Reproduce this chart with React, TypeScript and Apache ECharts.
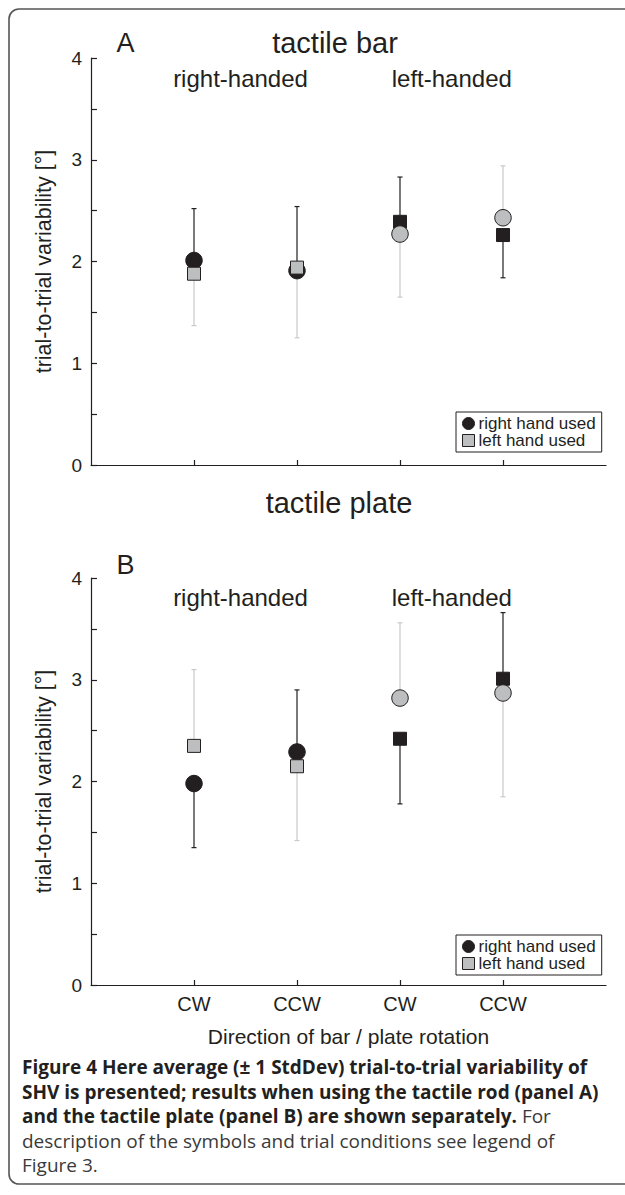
import React, { useEffect, useRef } from "react";
import * as echarts from "echarts";

// ---------- data ----------
const categories = ["CW", "CCW", "CW", "CCW"];
const categoryPositions = [1, 2, 3, 4];
const groupLabels = ["right-handed", "left-handed"];
const panelTitles = ["tactile bar", "tactile plate"];
const panelLetters = ["A", "B"];
const seriesNames = ["right hand used", "left hand used"];

// Panel A (tactile bar): mean and end of the (one-sided) ±1 SD bar
const blackMeanA = [2.01, 1.91, 2.39, 2.26];
const blackBarEndA = [2.52, 2.54, 2.83, 1.84];
const greyMeanA = [1.88, 1.94, 2.27, 2.43];
const greyBarEndA = [1.37, 1.25, 1.65, 2.94];

// Panel B (tactile plate)
const blackMeanB = [1.98, 2.29, 2.42, 3.01];
const blackBarEndB = [1.35, 2.9, 1.78, 3.66];
const greyMeanB = [2.35, 2.15, 2.82, 2.87];
const greyBarEndB = [3.1, 1.42, 3.56, 1.85];

const blackShapes = ["circle", "circle", "rect", "rect"];
const greyShapes = ["rect", "rect", "circle", "circle"];

const captionLines = [
  [["b", "Figure 4 Here average (± 1 StdDev) trial-to-trial variability of"]],
  [["b", "SHV is presented; results when using the tactile rod (panel A)"]],
  [["b", "and the tactile plate (panel B) are shown separately."], ["n", " For"]],
  [["n", "description of the symbols and trial conditions see legend of"]],
  [["n", "Figure 3."]],
];

// ---------- style ----------
const FONT = "'Liberation Sans', Arial, Helvetica, sans-serif";
const CAP_FONT = "'Open Sans', 'Noto Sans', sans-serif";
const INK = "#231f20";
const GREY = "#bcbec0";
const GREY_BAR = "#c9c9c9";

const GRID_LEFT = 91;
const GRID_WIDTH = 515;
const GRID_HEIGHT = 407;
const GRID_TOPS = [58, 578];

function errorBarSeries(panel: number, means: number[], ends: number[], color: string, z: number) {
  return {
    type: "custom",
    xAxisIndex: panel,
    yAxisIndex: panel,
    z,
    silent: true,
    data: means.map((m, k) => [categoryPositions[k], m, ends[k]]),
    encode: { x: 0, y: [1, 2] },
    renderItem: (params: any, api: any) => {
      const x = api.value(0);
      const p0 = api.coord([x, api.value(1)]);
      const p1 = api.coord([x, api.value(2)]);
      const cap = 2.5;
      return {
        type: "group",
        children: [
          {
            type: "line",
            shape: { x1: p0[0], y1: p0[1], x2: p1[0], y2: p1[1] },
            style: { stroke: color, lineWidth: 1.2 },
          },
          {
            type: "line",
            shape: { x1: p1[0] - cap, y1: p1[1], x2: p1[0] + cap, y2: p1[1] },
            style: { stroke: color, lineWidth: 1.2 },
          },
        ],
      };
    },
  };
}

function markerSeries(panel: number, name: string, means: number[], shapes: string[], color: string, z: number) {
  return {
    type: "scatter",
    name,
    xAxisIndex: panel,
    yAxisIndex: panel,
    z,
    silent: true,
    symbol: shapes[0],
    data: means.map((m, k) => ({
      value: [categoryPositions[k], m],
      symbol: shapes[k],
      symbolSize: shapes[k] === "circle" ? 16.5 : 13,
    })),
    itemStyle: { color, borderColor: INK, borderWidth: 1, opacity: 1 },
    emphasis: { disabled: true },
  };
}

function centerText(text: string, x: number, y: number, size: number) {
  return {
    type: "text",
    x,
    y,
    silent: true,
    style: {
      text,
      fill: INK,
      font: `${size}px ${FONT}`,
      textAlign: "center",
      align: "center",
      textVerticalAlign: "middle",
      verticalAlign: "middle",
    },
  };
}

export default function App() {
  const ref = useRef<HTMLDivElement>(null);

  useEffect(() => {
    if (!ref.current) return;
    const chart = echarts.init(ref.current, undefined, { renderer: "svg" });

    const xAxes = [0, 1].map((i) => ({
      gridIndex: i,
      type: "value",
      min: 0,
      max: 5,
      interval: 1,
      axisLine: { show: true, onZero: false, lineStyle: { color: INK, width: 1.2 } },
      axisTick: { show: true, inside: true, length: 5, customValues: categoryPositions, lineStyle: { color: INK, width: 1.2 } },
      axisLabel: {
        show: i === 1,
        customValues: categoryPositions,
        formatter: (v: number) => categories[Math.round(v) - 1] ?? "",
        fontSize: 20,
        fontFamily: FONT,
        color: INK,
        margin: 9,
      },
      splitLine: { show: false },
      name: i === 1 ? "Direction of bar / plate rotation" : "",
      nameLocation: "middle",
      nameGap: 41,
      nameTextStyle: { fontSize: 21, fontFamily: FONT, color: INK },
    }));

    const yAxes = [0, 1].map((i) => ({
      gridIndex: i,
      type: "value",
      min: 0,
      max: 4,
      interval: 0.5,
      axisLine: { show: true, lineStyle: { color: INK, width: 1.2 } },
      axisTick: { show: true, inside: true, length: 6, lineStyle: { color: INK, width: 1.2 } },
      axisLabel: {
        formatter: (v: number) => (Math.abs(v - Math.round(v)) < 1e-6 ? String(Math.round(v)) : ""),
        fontSize: 19,
        fontFamily: FONT,
        color: INK,
        margin: 9,
      },
      splitLine: { show: false },
      name: "trial-to-trial variability [°]",
      nameLocation: "middle",
      nameRotate: 90,
      nameGap: 36,
      nameTextStyle: { fontSize: 21.5, fontFamily: FONT, color: INK },
    }));

    const legendTops = [412, 935];
    const legends = legendTops.map((top) => ({
      left: 456,
      top,
      orient: "vertical",
      selectedMode: false,
      data: [
        { name: seriesNames[0], icon: "circle" },
        { name: seriesNames[1], icon: "rect" },
      ],
      itemWidth: 12,
      itemHeight: 12,
      itemGap: 0,
      padding: [3, 6, 3, 6],
      borderColor: INK,
      borderWidth: 1,
      borderRadius: 0,
      backgroundColor: "#fff",
      itemStyle: { borderColor: INK, borderWidth: 1 },
      textStyle: { fontSize: 17, fontFamily: FONT, color: INK, padding: [0, 0, 0, -1] },
    }));

    const captionTop = 1067;
    const captionGap = 24.5;
    const captionGraphics = captionLines.map((segs, i) => ({
      type: "text",
      x: 22,
      y: captionTop + i * captionGap,
      silent: true,
      style: {
        text: segs.map(([k, t]) => `{${k}|${t}}`).join(""),
        textVerticalAlign: "middle",
        verticalAlign: "middle",
        rich: {
          b: { fontFamily: CAP_FONT, fontWeight: "bold", fontSize: 19, fill: INK, color: INK },
          n: { fontFamily: CAP_FONT, fontWeight: "normal", fontSize: 19, fill: "#3a3a3a", color: "#3a3a3a" },
        },
      },
    }));

    const panelGraphics: any[] = [];
    const letterY = [43, 565];
    const titleY = [43, 503];
    const groupY = [78, 597];
    [0, 1].forEach((i) => {
      panelGraphics.push(centerText(panelLetters[i], 125.5, letterY[i], 27));
      panelGraphics.push(centerText(panelTitles[i], i === 0 ? 335 : 339, titleY[i], 29));
      panelGraphics.push(centerText(groupLabels[0], 240.5, groupY[i], 24));
      panelGraphics.push(centerText(groupLabels[1], 451.8, groupY[i], 24));
    });

    chart.setOption({
      animation: false,
      backgroundColor: "#ffffff",
      grid: GRID_TOPS.map((top) => ({ left: GRID_LEFT, top, width: GRID_WIDTH, height: GRID_HEIGHT })),
      xAxis: xAxes,
      yAxis: yAxes,
      legend: legends,
      graphic: [
        {
          type: "rect",
          shape: { x: 9, y: 9, width: 640, height: 1175, r: 10 },
          style: { fill: "none", stroke: "#555", lineWidth: 1.6 },
          silent: true,
          z: -10,
        },
        ...panelGraphics,
        ...captionGraphics,
      ],
      series: [
        errorBarSeries(0, blackMeanA, blackBarEndA, INK, 2),
        errorBarSeries(0, greyMeanA, greyBarEndA, GREY_BAR, 2),
        markerSeries(0, seriesNames[0], blackMeanA, blackShapes, INK, 3),
        markerSeries(0, seriesNames[1], greyMeanA, greyShapes, GREY, 4),
        errorBarSeries(1, blackMeanB, blackBarEndB, INK, 2),
        errorBarSeries(1, greyMeanB, greyBarEndB, GREY_BAR, 2),
        markerSeries(1, seriesNames[0], blackMeanB, blackShapes, INK, 3),
        markerSeries(1, seriesNames[1], greyMeanB, greyShapes, GREY, 4),
      ],
    });

    return () => chart.dispose();
  }, []);

  return (
    <div
      ref={ref}
      style={{ position: "absolute", left: 0, top: 0, width: 625, height: 1195, background: "#fff" }}
    />
  );
}
